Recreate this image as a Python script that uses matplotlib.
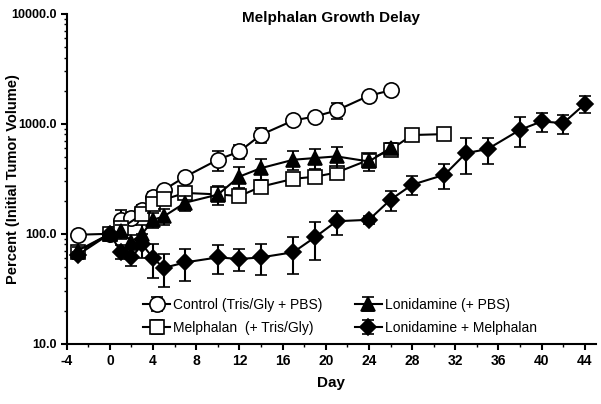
import matplotlib
import matplotlib.pyplot as plt
import numpy as np
from matplotlib.ticker import FixedLocator, MultipleLocator, LogLocator, NullFormatter

plt.rcParams['font.family'] = ['Liberation Sans Narrow', 'Liberation Sans', 'DejaVu Sans']
plt.rcParams['axes.unicode_minus'] = False

# Control (Tris/Gly + PBS)
ctrl_day = [-3, 0, 1, 2, 3, 4, 5, 7, 10, 12, 14, 17, 19, 21, 24, 26]
ctrl_val = [98, 100, 134, 139, 165, 218, 251, 331, 471, 560, 794, 1072, 1164, 1321, 1799, 2010]
ctrl_err = [6, 0, 29, 20, 18, 20, 20, 25, 100, 83, 127, 90, 100, 217, 120, 100]

# Melphalan (+ Tris/Gly)
mel_day = [-3, 0, 1, 3, 4, 5, 7, 10, 12, 14, 17, 19, 21, 24, 26, 28, 31]
mel_val = [68, 100, 112, 150, 185, 205, 235, 228, 220, 268, 316, 330, 360, 470, 580, 790, 805]
mel_err = [6, 0, 12, 15, 18, 20, 22, 20, 22, 25, 35, 40, 45, 40, 50, 60, 70]

# Lonidamine (+ PBS)
lon_day = [-3, 0, 1, 2, 3, 4, 5, 7, 10, 12, 14, 17, 19, 21, 24, 26]
lon_val = [70, 100, 105, 85, 100, 134, 144, 192, 227, 331, 395, 471, 488, 505, 454, 600]
lon_err = [6, 0, 15, 12, 20, 20, 25, 30, 43, 73, 86, 89, 100, 110, 80, 65]

# Lonidamine + Melphalan
lm_day = [-3, 0, 1, 2, 3, 4, 5, 7, 10, 12, 14, 17, 19, 21, 24, 26, 28, 31, 33, 35, 38, 40, 42, 44]
lm_val = [64, 100, 69, 61, 80, 60, 49, 55, 61, 59, 61, 68, 93, 130, 134, 204, 279, 344, 541, 589, 881, 1050, 1013, 1510]
lm_err = [5, 0, 10, 10, 20, 20, 16, 18, 18, 13, 19, 25, 35, 32, 10, 42, 53, 90, 195, 160, 270, 200, 200, 260]

x_ticks = np.arange(-4, 45, 4)
y_ticks = [10, 100, 1000, 10000]
y_tick_labels = ['10.0', '100.0', '1000.0', '10000.0']

fig = plt.figure(figsize=(6.01, 4.04), dpi=100)
ax = fig.add_axes([0.111, 0.149, 0.880, 0.817])

style = dict(color='black', ecolor='black', linewidth=1.5, elinewidth=1.5,
             capsize=4, capthick=1.5, markeredgecolor='black', markeredgewidth=1.2)

ax.errorbar(ctrl_day, ctrl_val, yerr=ctrl_err, marker='o', markersize=11,
            markerfacecolor='white', label='Control (Tris/Gly + PBS)', zorder=3, **style)
ax.errorbar(mel_day, mel_val, yerr=mel_err, marker='s', markersize=10,
            markerfacecolor='white', label='Melphalan  (+ Tris/Gly)', zorder=4, **style)
ax.errorbar(lon_day, lon_val, yerr=lon_err, marker='^', markersize=10,
            markerfacecolor='black', label='Lonidamine (+ PBS)', zorder=5, **style)
ax.errorbar(lm_day, lm_val, yerr=lm_err, marker='D', markersize=8.5,
            markerfacecolor='black', label='Lonidamine + Melphalan', zorder=6, **style)

ax.set_yscale('log')
ax.set_ylim(10, 10000)
ax.set_xlim(-4, 45)
ax.xaxis.set_major_locator(FixedLocator(x_ticks))
ax.xaxis.set_minor_locator(MultipleLocator(2))
ax.yaxis.set_major_locator(FixedLocator(y_ticks))
ax.set_yticklabels(y_tick_labels)
ax.yaxis.set_minor_locator(LogLocator(base=10, subs=np.arange(2, 10)))
ax.yaxis.set_minor_formatter(NullFormatter())

for lab in ax.get_xticklabels():
    lab.set_fontweight('bold')
    lab.set_fontsize(10)
for lab in ax.get_yticklabels():
    lab.set_fontweight('bold')
    lab.set_fontsize(9)

ax.tick_params(axis='both', which='major', direction='out', length=4, width=1.5, pad=3)
ax.tick_params(axis='both', which='minor', direction='out', length=2.5, width=1)
ax.spines['top'].set_visible(False)
ax.spines['right'].set_visible(False)
ax.spines['left'].set_linewidth(1.5)
ax.spines['bottom'].set_linewidth(1.5)

fig.text(0.55, 0.955, 'Melphalan Growth Delay', fontsize=11, fontweight='bold',
         ha='center', va='center')
ax.set_xlabel('Day', fontsize=11, fontweight='bold', labelpad=6)
fig.text(0.022, 0.557, 'Percent (Initial Tumor Volume)', fontsize=10.5, fontweight='bold',
         rotation=90, ha='center', va='center')

ax.legend(loc='lower left', bbox_to_anchor=(0.12, -0.01), ncol=2, frameon=False,
          fontsize=10, handlelength=2.0, columnspacing=2.3, handletextpad=0.2,
          labelspacing=0.6)

plt.savefig('out.png', dpi=100)
